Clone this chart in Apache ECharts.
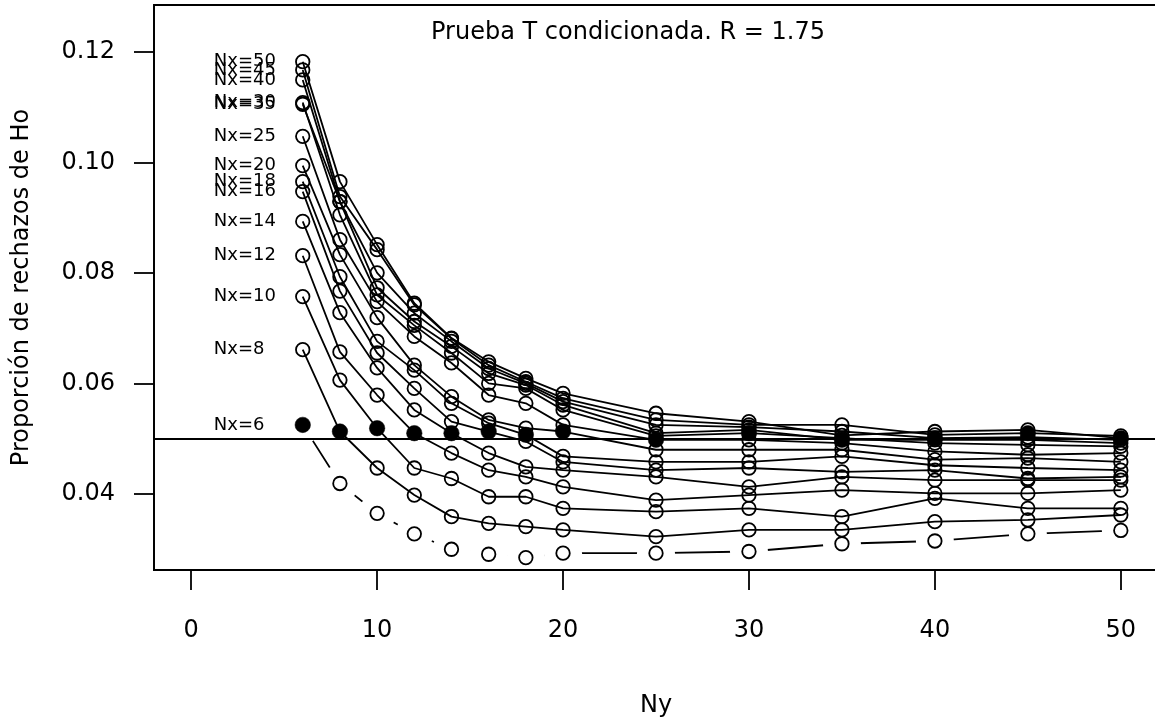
<!DOCTYPE html>
<html>
<head>
<meta charset="utf-8">
<title>Prueba T condicionada</title>
<script src="https://cdn.jsdelivr.net/npm/echarts@6/dist/echarts.min.js"></script>
<style>
  html, body { margin: 0; padding: 0; background: #fff; }
  #chart { width: 1155px; height: 727px; }
</style>
</head>
<body>
<div id="chart"></div>
<script>
// Ny on the x axis, one curve per Nx
var ny = [6, 8, 10, 12, 14, 16, 18, 20, 25, 30, 35, 40, 45, 50];
var nx = [6, 8, 10, 12, 14, 16, 18, 20, 25, 30, 35, 40, 45, 50];
var xTicks = [0, 10, 20, 30, 40, 50];
var yTicks = [0.04, 0.06, 0.08, 0.10, 0.12];

// proportion of H0 rejections, one array per Nx
var rej6  = [0.0525, 0.0419, 0.0365, 0.0328, 0.0300, 0.0291, 0.0285, 0.0293, 0.0293, 0.0296, 0.0310, 0.0315, 0.0328, 0.0334];
var rej8  = [0.0661, 0.0513, 0.0447, 0.0398, 0.0359, 0.0347, 0.0341, 0.0335, 0.0323, 0.0335, 0.0335, 0.0350, 0.0353, 0.0362];
var rej10 = [0.0757, 0.0606, 0.0519, 0.0447, 0.0428, 0.0395, 0.0395, 0.0374, 0.0368, 0.0374, 0.0359, 0.0392, 0.0374, 0.0374];
var rej12 = [0.0831, 0.0657, 0.0579, 0.0510, 0.0474, 0.0443, 0.0431, 0.0413, 0.0389, 0.0398, 0.0407, 0.0401, 0.0401, 0.0407];
var rej14 = [0.0893, 0.0728, 0.0628, 0.0552, 0.0510, 0.0474, 0.0449, 0.0443, 0.0431, 0.0413, 0.0431, 0.0425, 0.0425, 0.0425];
var rej16 = [0.0947, 0.0767, 0.0655, 0.0591, 0.0531, 0.0513, 0.0495, 0.0458, 0.0443, 0.0447, 0.0440, 0.0443, 0.0428, 0.0431];
var rej18 = [0.0965, 0.0793, 0.0676, 0.0624, 0.0564, 0.0528, 0.0507, 0.0468, 0.0458, 0.0458, 0.0468, 0.0452, 0.0447, 0.0443];
var rej20 = [0.0994, 0.0833, 0.0719, 0.0633, 0.0576, 0.0534, 0.0519, 0.0513, 0.0480, 0.0480, 0.0480, 0.0462, 0.0465, 0.0458];
var rej25 = [0.1047, 0.0860, 0.0748, 0.0685, 0.0637, 0.0579, 0.0564, 0.0525, 0.0498, 0.0498, 0.0492, 0.0477, 0.0471, 0.0474];
var rej30 = [0.1108, 0.0905, 0.0760, 0.0705, 0.0655, 0.0600, 0.0591, 0.0552, 0.0505, 0.0510, 0.0501, 0.0492, 0.0489, 0.0486];
var rej35 = [0.1105, 0.0929, 0.0773, 0.0712, 0.0667, 0.0618, 0.0597, 0.0561, 0.0510, 0.0516, 0.0498, 0.0498, 0.0498, 0.0492];
var rej40 = [0.1149, 0.0929, 0.0800, 0.0727, 0.0676, 0.0627, 0.0600, 0.0567, 0.0525, 0.0521, 0.0513, 0.0501, 0.0503, 0.0498];
var rej45 = [0.1167, 0.0938, 0.0842, 0.0742, 0.0681, 0.0633, 0.0603, 0.0573, 0.0534, 0.0525, 0.0525, 0.0507, 0.0510, 0.0505];
var rej50 = [0.1182, 0.0965, 0.0851, 0.0745, 0.0682, 0.0639, 0.0609, 0.0582, 0.0546, 0.0531, 0.0506, 0.0513, 0.0516, 0.0501];
var alpha = 0.05;
var labelX = 1;

var rejections = [rej6, rej8, rej10, rej12, rej14, rej16, rej18, rej20, rej25, rej30, rej35, rej40, rej45, rej50];

(function() {
  var ink = '#000';
  var font = 'DejaVu Sans';
  var lw = 1.8;

  var chart = echarts.init(document.getElementById('chart'), null, { renderer: 'canvas' });

  function points(vals, i) {
    return ny.map(function(n, j) {
      if (n === nx[i]) {
        return { value: [n, vals[j]], symbolSize: 15.5, itemStyle: { color: ink, borderColor: ink, borderWidth: 0.5 } };
      }
      return [n, vals[j]];
    });
  }

  var series = [];
  rejections.forEach(function(vals, i) {
    if (nx[i] === 6) {
      // --- Nx=6: broken line (type "b", lty 2): white disks cut the line round each point ---
      series.push({
        name: 'Nx=6 line',
        type: 'line',
        z: -1,
        symbol: 'circle',
        symbolSize: 38,
        itemStyle: { color: '#fff', borderWidth: 0 },
        lineStyle: { color: ink, width: lw },
        clip: false,
        silent: true,
        data: ny.map(function(n, j) { return [n, vals[j]]; })
      });
      series.push({
        name: 'Nx=6',
        type: 'line',
        symbol: 'circle',
        symbolSize: 13.5,
        itemStyle: { color: 'rgba(0,0,0,0)', borderColor: ink, borderWidth: lw },
        lineStyle: { opacity: 0 },
        clip: false,
        data: points(vals, i),
        markLine: {
          silent: true,
          symbol: 'none',
          label: { show: false },
          lineStyle: { color: ink, width: lw, type: 'solid' },
          data: [{ yAxis: alpha }]
        }
      });
      return;
    }
    series.push({
      name: 'Nx=' + nx[i],
      type: 'line',
      symbol: 'circle',
      symbolSize: 13.5,
      itemStyle: { color: 'rgba(0,0,0,0)', borderColor: ink, borderWidth: lw },
      lineStyle: { color: ink, width: lw, type: 'solid' },
      clip: false,
      data: points(vals, i)
    });
  });

  // --- "Nx=.." labels at the left of the first point ---
  series.push({
    type: 'scatter',
    symbolSize: 0,
    silent: true,
    itemStyle: { opacity: 1 },
    label: {
      show: true,
      position: 'right',
      distance: 4,
      formatter: '{b}',
      color: ink,
      fontSize: 18,
      fontFamily: font
    },
    data: rejections.map(function(vals, i) {
      return { name: 'Nx=' + nx[i], value: [labelX, vals[0]] };
    })
  });

  chart.setOption({
    animation: false,
    backgroundColor: '#fff',
    textStyle: { fontFamily: font, color: ink },
    grid: {
      left: 154, top: 5, width: 1004, height: 565,
      show: true, borderColor: ink, borderWidth: lw,
      outerBoundsMode: 'none'
    },
    graphic: [{
      type: 'text',
      x: 628, y: 33,
      style: {
        text: 'Prueba T condicionada. R = 1.75',
        fontSize: 24, fontFamily: font, fill: ink,
        align: 'center', verticalAlign: 'middle',
        textAlign: 'center', textVerticalAlign: 'middle'
      }
    }],
    xAxis: {
      type: 'value',
      min: -2, max: 52,
      name: 'Ny',
      nameLocation: 'middle',
      nameGap: 124,
      nameTextStyle: { fontSize: 24, color: ink, fontFamily: font },
      axisLine: { show: true, onZero: false, lineStyle: { color: ink, width: lw } },
      axisTick: { show: true, length: 20, customValues: xTicks, lineStyle: { color: ink, width: lw } },
      axisLabel: { customValues: xTicks, margin: 49, fontSize: 24, color: ink, fontFamily: font },
      splitLine: { show: false }
    },
    yAxis: {
      type: 'value',
      min: 0.02625, max: 0.12845,
      name: 'Proporción de rechazos de Ho',
      nameLocation: 'middle',
      nameGap: 120,
      nameTextStyle: { fontSize: 24, color: ink, fontFamily: font },
      axisLine: { show: true, onZero: false, lineStyle: { color: ink, width: lw } },
      axisTick: { show: true, length: 20, customValues: yTicks, lineStyle: { color: ink, width: lw } },
      axisLabel: {
        customValues: yTicks, margin: 39, fontSize: 24, color: ink, fontFamily: font,
        formatter: function(v) { return v.toFixed(2); }
      },
      splitLine: { show: false }
    },
    series: series
  });
  window.addEventListener('resize', function() { chart.resize(); });
})();
</script>
</body>
</html>
